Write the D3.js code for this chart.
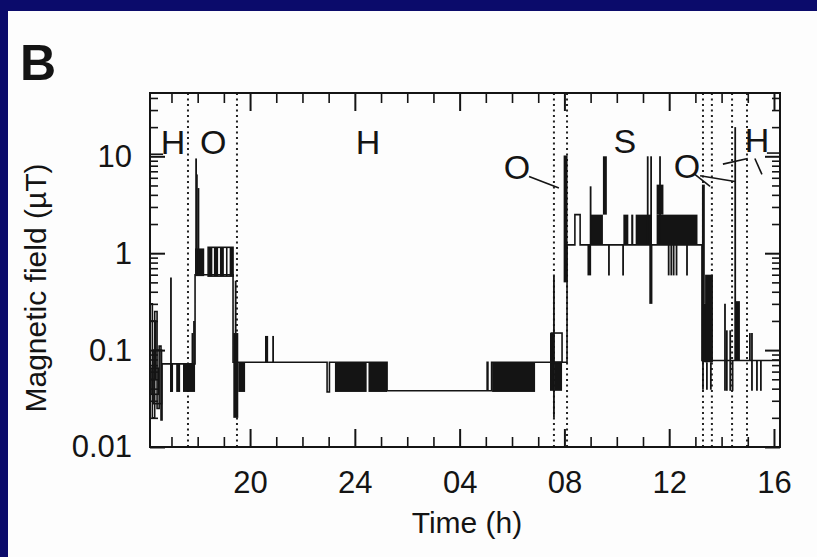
<!DOCTYPE html>
<html><head><meta charset="utf-8">
<script src="https://cdn.jsdelivr.net/npm/d3@7"></script>
<style>
html,body{margin:0;padding:0;background:#0b0b6b;}
svg{display:block;}
</style></head>
<body>
<svg id="chart" width="817" height="557"></svg>
<script>
// Personal magnetic-field exposure over one day.
// Time is in hours from midnight of the first day (values above 24 belong to the next day).

// Main step trace: [hour, field in µT]
const trace = [
  [16.18, 0.3], [16.27, 0.02], [16.36, 0.25], [16.45, 0.025], [16.53, 0.11], [16.60, 0.019],
  [16.64, 0.072],
  [17.90, 0.6],
  [19.35, 0.075],
  [22.94, 0.037], [23.03, 0.075],
  [25.23, 0.038],
  [29.05, 0.075], [29.08, 0.038], [29.22, 0.075],
  [32.10, 1.22],
  [32.40, 2.5], [32.60, 1.22],
  [37.25, 0.078],
  [40.23, 0.078]
];

// Periods of rapid switching, drawn solid: [start h, end h, low µT, high µT]
const bursts = [
  [16.95, 17.06, 0.037, 0.072],
  [17.18, 17.33, 0.037, 0.072],
  [17.44, 17.90, 0.037, 0.072],
  [17.90, 18.25, 0.58, 1.12],
  [18.42, 18.56, 0.58, 1.15],
  [18.62, 18.78, 0.58, 1.15],
  [18.85, 19.00, 0.58, 1.15],
  [19.08, 19.14, 0.58, 1.15],
  [19.22, 19.35, 0.58, 1.15],
  [19.36, 19.55, 0.02, 0.15],
  [19.55, 19.81, 0.037, 0.075],
  [20.57, 20.69, 0.075, 0.14],
  [23.24, 24.45, 0.037, 0.075],
  [24.52, 25.23, 0.037, 0.075],
  [29.24, 30.88, 0.037, 0.075],
  [31.45, 31.62, 0.038, 0.15],
  [31.62, 31.91, 0.038, 0.075],
  [31.97, 32.12, 0.5, 10.2],
  [32.88, 33.02, 0.59, 1.22],
  [33.00, 33.47, 1.22, 2.5],
  [33.47, 33.62, 2.5, 10],
  [34.25, 34.44, 1.22, 2.5],
  [34.55, 34.63, 1.22, 2.5],
  [34.72, 35.34, 1.22, 2.5],
  [35.24, 35.36, 0.30, 1.22],
  [35.52, 35.78, 2.5, 5.1],
  [35.52, 37.08, 1.22, 2.5],
  [37.25, 37.36, 0.30, 5.1],
  [37.25, 37.44, 0.075, 0.3],
  [37.37, 37.67, 0.075, 0.6],
  [38.51, 38.70, 0.078, 0.32]
];

// Outline envelopes of switching periods: [start h, end h, low µT, high µT]
const envelopes = [
  [16.18, 16.40, 0.05, 0.2],
  [16.30, 16.62, 0.028, 0.1],
  [16.22, 16.50, 0.035, 0.065],
  [18.40, 19.35, 0.58, 1.15],
  [31.50, 31.91, 0.075, 0.15]
];

// Brief excursions: [hour, low µT, high µT]
const spikes = [
  [16.98, 0.037, 0.56],
  [17.80, 0.072, 0.15],
  [17.86, 0.072, 0.2],
  [17.94, 0.6, 9.5],
  [17.97, 0.6, 6.5],
  [18.03, 0.6, 4.7],
  [19.45, 0.15, 0.52],
  [20.88, 0.075, 0.14],
  [31.60, 0.02, 0.58],
  [33.00, 1.22, 4.9],
  [33.70, 0.59, 1.22],
  [34.24, 0.59, 1.22],
  [35.18, 1.22, 10],
  [35.31, 1.22, 10],
  [35.65, 1.22, 10],
  [35.98, 0.59, 1.22],
  [36.08, 0.59, 1.22],
  [36.17, 0.59, 1.22],
  [36.28, 0.59, 1.22],
  [36.68, 0.59, 1.22],
  [37.29, 0.039, 0.3],
  [37.44, 0.039, 0.075],
  [37.59, 0.039, 0.075],
  [38.13, 0.038, 0.30],
  [38.20, 0.038, 0.16],
  [38.33, 0.038, 0.16],
  [38.42, 0.038, 0.078],
  [38.52, 0.078, 20],
  [39.08, 0.078, 0.15],
  [39.16, 0.038, 0.15],
  [39.35, 0.038, 0.078],
  [39.50, 0.038, 0.078]
];

// Boundaries between activity periods (dotted)
const boundaries = [17.63, 19.50, 31.60, 32.10, 37.29, 37.63, 38.40, 38.97];

// Period labels: H = home, O = outdoors/travel, S = school
const phaseNames = ["H", "O", "H", "S", "O", "O", "H"];
const phaseAt = [[17.06, 10.5], [18.59, 10.5], [24.50, 10.5], [34.31, 10.7], [30.19, 5.8], [36.68, 5.95], [39.35, 11.1]];

// Label leader lines: pairs of [hour, µT]
const leaders = [
  [[16.18, 10.5], [16.68, 10.5]],
  [[30.65, 6.2], [31.79, 4.7]],
  [[36.98, 6.5], [37.56, 4.9]],
  [[37.18, 6.3], [38.51, 5.5]],
  [[38.05, 8.3], [39.00, 9.5]],
  [[39.27, 9.5], [39.54, 6.5]],
  [[39.73, 10.8], [40.23, 10.8]]
];

// Axis ticks
const xMajor = [20, 24, 28, 32, 36, 40];
const xMajorLabels = ["20", "24", "04", "08", "12", "16"];
const xMinor = d3.range(17, 41).filter(h => h % 4 !== 0);
const yMajor = [0.01, 0.1, 1, 10];
const yMajorLabels = ["0.01", "0.1", "1", "10"];
const yMinor = [0.02,0.03,0.04,0.05,0.06,0.07,0.08,0.09,0.2,0.3,0.4,0.5,0.6,0.7,0.8,0.9,2,3,4,5,6,7,8,9,20,30,40];

const svg = d3.select("#chart");
const FONT = "'Liberation Sans', Arial, Helvetica, sans-serif";
const INK = "#141414";

// Paper panel
svg.append("rect").attr("x", 8).attr("y", 11).attr("width", 809).attr("height", 546).attr("fill", "#fdfdfd");

const x = d3.scaleLinear().domain([16.18, 40.23]).range([150, 780]);
const y = d3.scaleLog().domain([0.01, 45]).range([447, 93]);

// Panel letter
svg.append("text").attr("x", 20).attr("y", 80).attr("font-family", FONT).attr("font-weight", "bold")
  .attr("font-size", 50).attr("fill", INK).text("B");

// Dotted period boundaries
svg.append("g").selectAll("line").data(boundaries).join("line")
  .attr("x1", d => x(d)).attr("x2", d => x(d)).attr("y1", y.range()[1]).attr("y2", y.range()[0])
  .attr("stroke", "#222").attr("stroke-width", 2).attr("stroke-dasharray", "2,3.5");

// Data marks
const marks = svg.append("g");
marks.selectAll("rect.burst").data(bursts).join("rect").attr("class", "burst")
  .attr("x", d => x(d[0])).attr("width", d => x(d[1]) - x(d[0]))
  .attr("y", d => y(d[3])).attr("height", d => y(d[2]) - y(d[3]))
  .attr("fill", INK);
marks.selectAll("rect.env").data(envelopes).join("rect").attr("class", "env")
  .attr("x", d => x(d[0])).attr("width", d => x(d[1]) - x(d[0]))
  .attr("y", d => y(d[3])).attr("height", d => y(d[2]) - y(d[3]))
  .attr("fill", "none").attr("stroke", INK).attr("stroke-width", 1.6);
marks.selectAll("line.spike").data(spikes).join("line").attr("class", "spike")
  .attr("x1", d => x(d[0])).attr("x2", d => x(d[0]))
  .attr("y1", d => y(d[1])).attr("y2", d => y(d[2]))
  .attr("stroke", INK).attr("stroke-width", 1.8);
marks.append("path").datum(trace)
  .attr("d", d3.line().x(d => x(d[0])).y(d => y(d[1])).curve(d3.curveStepAfter))
  .attr("fill", "none").attr("stroke", INK).attr("stroke-width", 1.6);

// Period labels and leaders
svg.append("g").selectAll("text").data(phaseNames).join("text")
  .attr("x", (d, i) => x(phaseAt[i][0])).attr("y", (d, i) => y(phaseAt[i][1]))
  .attr("text-anchor", "middle").attr("font-family", FONT).attr("font-size", 34).attr("fill", INK)
  .text(d => d);
svg.append("g").selectAll("line").data(leaders).join("line")
  .attr("x1", d => x(d[0][0])).attr("y1", d => y(d[0][1]))
  .attr("x2", d => x(d[1][0])).attr("y2", d => y(d[1][1]))
  .attr("stroke", INK).attr("stroke-width", 1.6);

// Axes with inward ticks on all four sides
function styleAxis(g, w) {
  g.select(".domain").remove();
  g.selectAll(".tick line").attr("stroke", INK).attr("stroke-width", w);
  g.selectAll("text").attr("font-family", FONT).attr("font-size", 31).attr("fill", INK);
}
const [x0, x1] = x.range();
const [yb, yt] = y.range();

svg.append("g").attr("transform", `translate(0,${yb})`)
  .call(d3.axisBottom(x).tickValues(xMajor).tickSize(-18).tickPadding(24).tickFormat((d, i) => xMajorLabels[i]))
  .call(g => styleAxis(g, 2));
svg.append("g").attr("transform", `translate(0,${yb})`)
  .call(d3.axisBottom(x).tickValues(xMinor).tickSize(-10).tickFormat(""))
  .call(g => styleAxis(g, 1.6));
svg.append("g").attr("transform", `translate(0,${yt})`)
  .call(d3.axisTop(x).tickValues(xMajor).tickSize(-18).tickFormat(""))
  .call(g => styleAxis(g, 2));
svg.append("g").attr("transform", `translate(0,${yt})`)
  .call(d3.axisTop(x).tickValues(xMinor).tickSize(-10).tickFormat(""))
  .call(g => styleAxis(g, 1.6));

svg.append("g").attr("transform", `translate(${x0},0)`)
  .call(d3.axisLeft(y).tickValues(yMajor).tickSize(-15).tickPadding(18).tickFormat((d, i) => yMajorLabels[i]))
  .call(g => styleAxis(g, 2));
svg.append("g").attr("transform", `translate(${x0},0)`)
  .call(d3.axisLeft(y).tickValues(yMinor).tickSize(-8).tickFormat(""))
  .call(g => styleAxis(g, 1.6));
svg.append("g").attr("transform", `translate(${x1},0)`)
  .call(d3.axisRight(y).tickValues(yMajor).tickSize(-15).tickFormat(""))
  .call(g => styleAxis(g, 2));
svg.append("g").attr("transform", `translate(${x1},0)`)
  .call(d3.axisRight(y).tickValues(yMinor).tickSize(-8).tickFormat(""))
  .call(g => styleAxis(g, 1.6));

// Plot frame
svg.append("rect").attr("x", x0).attr("y", yt).attr("width", x1 - x0).attr("height", yb - yt)
  .attr("fill", "none").attr("stroke", INK).attr("stroke-width", 2);

// Axis titles
svg.append("text").attr("x", 467).attr("y", 533).attr("text-anchor", "middle")
  .attr("font-family", FONT).attr("font-size", 30).attr("fill", INK).text("Time (h)");
svg.append("text").attr("transform", "translate(46,288) rotate(-90)").attr("text-anchor", "middle")
  .attr("font-family", FONT).attr("font-size", 30).attr("fill", INK).text("Magnetic field (µT)");
</script>
</body></html>
